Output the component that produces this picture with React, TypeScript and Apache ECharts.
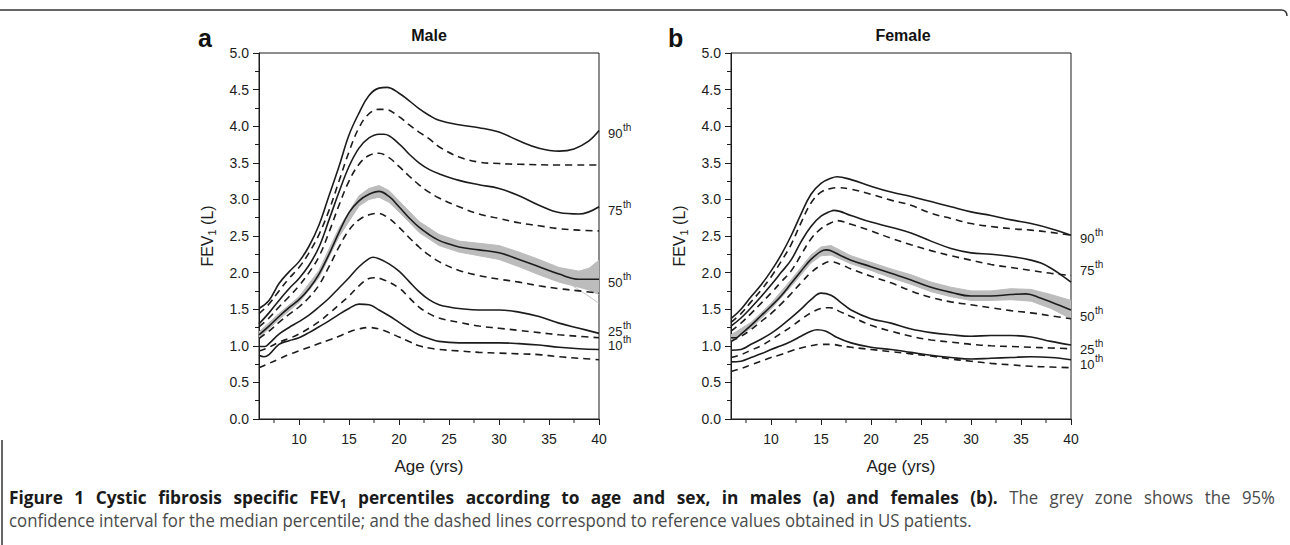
import React, { useEffect, useRef } from "react";
import * as echarts from "echarts";

// ---------- Male (panel a) ----------
const MALE_P90 = [[6,1.51],[7,1.62],[8,1.85],[9,2.01],[10,2.15],[11,2.36],[12,2.65],[13,3.05],[14,3.45],[15,3.88],[16,4.18],[17,4.42],[18,4.52],[18.8,4.53],[20,4.45],[21,4.35],[22,4.24],[23,4.15],[24,4.08],[26,4.02],[28,3.98],[30,3.92],[32,3.80],[34,3.70],[36,3.66],[37.5,3.69],[39,3.80],[40,3.94]];
const MALE_P90_US = [[6,1.44],[7,1.57],[8,1.75],[9,1.92],[10,2.07],[11,2.27],[12,2.52],[13,2.85],[14,3.25],[15,3.65],[16,3.98],[17,4.17],[18,4.23],[18.6,4.23],[20,4.13],[21,4.02],[22,3.92],[23,3.83],[24,3.72],[26,3.58],[28,3.51],[30,3.49],[32,3.48],[36,3.47],[40,3.47]];
const MALE_P75 = [[6,1.30],[7,1.45],[8,1.62],[9,1.78],[10,1.92],[11,2.10],[12,2.35],[13,2.72],[14,3.10],[15,3.45],[16,3.70],[17,3.84],[18,3.89],[18.5,3.89],[20,3.76],[21,3.62],[22,3.50],[23,3.41],[24,3.35],[26,3.26],[28,3.20],[30,3.15],[32,3.05],[34,2.92],[36,2.82],[38,2.80],[40,2.90]];
const MALE_P75_US = [[6,1.26],[7,1.38],[8,1.53],[9,1.67],[10,1.82],[11,2.00],[12,2.22],[13,2.55],[14,2.92],[15,3.25],[16,3.48],[17,3.60],[18,3.63],[19,3.57],[20,3.45],[21,3.32],[22,3.20],[23,3.10],[24,3.02],[26,2.90],[28,2.80],[30,2.74],[32,2.68],[34,2.64],[36,2.60],[38,2.58],[40,2.57]];
const MALE_P50 = [[6,1.15],[7,1.27],[8,1.40],[9,1.52],[10,1.63],[11,1.78],[12,1.98],[13,2.25],[14,2.55],[15,2.82],[16,2.98],[17,3.07],[18,3.11],[19,3.04],[20,2.90],[21,2.75],[22,2.62],[23,2.52],[24,2.44],[25,2.39],[26,2.35],[28,2.31],[30,2.27],[32,2.18],[34,2.08],[36,1.98],[38,1.91],[40,1.91]];
const MALE_P50_US = [[6,1.10],[7,1.20],[8,1.32],[9,1.43],[10,1.53],[11,1.66],[12,1.83],[13,2.08],[14,2.35],[15,2.58],[16,2.72],[17,2.79],[17.9,2.81],[19,2.74],[20,2.62],[21,2.48],[22,2.35],[23,2.24],[24,2.15],[26,2.03],[28,1.96],[30,1.91],[32,1.87],[34,1.82],[36,1.78],[38,1.75],[40,1.72]];
const MALE_P25 = [[6,0.99],[6.6,0.99],[7,1.03],[8,1.16],[9,1.25],[10,1.33],[11,1.42],[12,1.53],[13,1.65],[14,1.79],[15,1.93],[16,2.08],[17,2.19],[17.4,2.21],[18,2.19],[19,2.12],[20,2.02],[21,1.88],[22,1.74],[23,1.63],[24,1.56],[25,1.53],[26,1.51],[28,1.49],[30,1.49],[32,1.46],[34,1.40],[36,1.31],[38,1.24],[40,1.17]];
const MALE_P25_US = [[6,0.93],[7,0.98],[8,1.05],[9,1.10],[10,1.16],[11,1.24],[12,1.33],[13,1.44],[14,1.56],[15,1.68],[16,1.82],[17,1.92],[17.5,1.93],[18.5,1.90],[20,1.79],[21,1.66],[22,1.53],[23,1.44],[24,1.38],[26,1.32],[28,1.27],[30,1.24],[32,1.21],[34,1.18],[36,1.15],[38,1.13],[40,1.11]];
const MALE_P10 = [[6,0.87],[6.5,0.85],[7,0.88],[8,1.02],[9,1.07],[10,1.11],[11,1.18],[12,1.26],[13,1.34],[14,1.43],[15,1.51],[16,1.57],[17,1.56],[18,1.49],[19,1.41],[20,1.32],[21,1.23],[22,1.15],[23,1.10],[24,1.06],[26,1.04],[28,1.04],[30,1.04],[32,1.03],[34,1.01],[36,0.98],[38,0.96],[40,0.95]];
const MALE_P10_US = [[6,0.70],[7,0.76],[8,0.82],[9,0.88],[10,0.93],[11,0.98],[12,1.03],[13,1.08],[14,1.13],[15,1.19],[16,1.23],[17,1.25],[18,1.23],[19,1.18],[20,1.12],[21,1.06],[22,1.00],[23,0.97],[24,0.95],[26,0.93],[28,0.91],[30,0.90],[32,0.89],[34,0.88],[36,0.85],[38,0.83],[40,0.81]];
const MALE_BAND_AGES = [6,8,10,12,14,16,17,18,19,20,22,24,26,28,30,32,34,36,38,39,40];
const MALE_BAND_LOW = [1.11,1.36,1.59,1.93,2.49,2.91,3.00,3.03,2.96,2.83,2.55,2.37,2.28,2.23,2.18,2.08,1.97,1.87,1.80,1.76,1.70];
const MALE_BAND_HIGH = [1.19,1.44,1.67,2.03,2.61,3.05,3.15,3.19,3.12,2.98,2.70,2.52,2.43,2.40,2.37,2.28,2.18,2.07,2.02,2.06,2.17];
const MALE_BAND_EDGE = [[34,2.03],[36,1.92],[37,1.85],[38.5,1.72],[40,1.58]];

// ---------- Female (panel b) ----------
const FEMALE_P90 = [[6,1.37],[7,1.50],[8,1.67],[9,1.83],[10,2.02],[11,2.24],[12,2.50],[13,2.80],[14,3.07],[15,3.22],[16,3.29],[16.6,3.31],[18,3.27],[20,3.18],[22,3.10],[24,3.04],[26,2.97],[28,2.90],[30,2.83],[32,2.78],[34,2.72],[36,2.67],[38,2.60],[40,2.51]];
const FEMALE_P90_US = [[6,1.32],[7,1.44],[8,1.60],[9,1.76],[10,1.94],[11,2.15],[12,2.38],[13,2.68],[14,2.95],[15,3.10],[16,3.15],[16.6,3.16],[18,3.14],[20,3.07],[22,2.99],[24,2.92],[26,2.81],[28,2.74],[30,2.67],[32,2.63],[34,2.60],[36,2.58],[38,2.55],[40,2.51]];
const FEMALE_P75 = [[6,1.27],[7,1.38],[8,1.52],[9,1.67],[10,1.83],[11,2.00],[12,2.17],[13,2.42],[14,2.63],[15,2.77],[16,2.84],[16.3,2.85],[18,2.78],[20,2.69],[22,2.62],[24,2.54],[26,2.43],[28,2.33],[30,2.27],[32,2.25],[34,2.22],[36,2.17],[37,2.13],[38,2.06],[39,1.97],[40,1.87]];
const FEMALE_P75_US = [[6,1.20],[7,1.31],[8,1.44],[9,1.58],[10,1.72],[11,1.87],[12,2.02],[13,2.24],[14,2.46],[15,2.60],[16,2.68],[16.6,2.71],[18,2.66],[20,2.57],[22,2.47],[24,2.38],[26,2.30],[28,2.23],[30,2.17],[32,2.11],[34,2.07],[36,2.03],[38,1.99],[40,1.96]];
const FEMALE_P50 = [[6,1.11],[6.5,1.11],[7,1.16],[8,1.28],[9,1.41],[10,1.54],[11,1.68],[12,1.85],[13,2.02],[14,2.18],[15,2.29],[15.5,2.31],[16,2.30],[17,2.23],[18,2.17],[20,2.08],[22,1.99],[24,1.90],[26,1.80],[28,1.73],[30,1.68],[32,1.68],[34,1.70],[35.5,1.71],[37,1.65],[38,1.60],[40,1.49]];
const FEMALE_P50_US = [[6,1.06],[7,1.13],[8,1.22],[9,1.33],[10,1.44],[11,1.57],[12,1.71],[13,1.86],[14,2.00],[15,2.10],[15.9,2.15],[17,2.11],[18,2.05],[20,1.95],[22,1.86],[24,1.75],[26,1.66],[28,1.60],[30,1.56],[32,1.52],[34,1.48],[36,1.45],[38,1.41],[40,1.37]];
const FEMALE_P25 = [[6,0.94],[7,0.95],[8,1.02],[9,1.09],[10,1.17],[11,1.27],[12,1.38],[13,1.50],[14,1.63],[15,1.72],[16,1.69],[17,1.59],[18,1.49],[20,1.37],[22,1.31],[24,1.23],[26,1.18],[28,1.15],[30,1.13],[32,1.14],[34,1.14],[36,1.12],[38,1.06],[40,1.01]];
const FEMALE_P25_US = [[6,0.84],[7,0.88],[8,0.94],[9,1.00],[10,1.08],[11,1.17],[12,1.26],[13,1.36],[14,1.45],[15,1.51],[15.9,1.52],[17,1.46],[18,1.40],[20,1.28],[22,1.20],[24,1.13],[26,1.08],[28,1.05],[30,1.02],[32,1.00],[34,0.99],[36,0.98],[38,0.97],[40,0.96]];
const FEMALE_P10 = [[6,0.78],[7,0.79],[8,0.84],[9,0.89],[10,0.95],[11,1.00],[12,1.06],[13,1.13],[14,1.20],[14.6,1.22],[15.5,1.20],[16.5,1.12],[18,1.04],[20,0.98],[22,0.95],[24,0.91],[26,0.87],[28,0.84],[30,0.82],[32,0.83],[34,0.84],[36,0.85],[38,0.84],[40,0.81]];
const FEMALE_P10_US = [[6,0.65],[7,0.69],[8,0.74],[9,0.79],[10,0.84],[11,0.88],[12,0.93],[13,0.97],[14,1.00],[15,1.02],[16,1.02],[17,1.00],[18,0.98],[20,0.95],[22,0.92],[24,0.89],[26,0.86],[28,0.82],[30,0.79],[32,0.76],[34,0.74],[36,0.72],[38,0.71],[40,0.70]];
const FEMALE_BAND_AGES = [6,8,10,12,14,15,16,18,20,22,24,26,28,30,32,34,36,38,40];
const FEMALE_BAND_LOW = [1.07,1.24,1.50,1.81,2.13,2.23,2.24,2.12,2.03,1.93,1.84,1.74,1.67,1.62,1.62,1.63,1.61,1.51,1.37];
const FEMALE_BAND_HIGH = [1.15,1.32,1.58,1.90,2.24,2.35,2.37,2.23,2.14,2.05,1.97,1.87,1.80,1.75,1.75,1.78,1.77,1.70,1.62];

// ---------- axes / labels ----------
const X_MINOR_TICKS = [7.5, 12.5, 17.5, 22.5, 27.5, 32.5, 37.5];
const PERCENTILE_LABELS = ["90", "75", "50", "25", "10"];
const MALE_LABEL_Y = [133, 210, 282, 331, 345];
const FEMALE_LABEL_Y = [238, 270, 316, 349, 364];
const CAPTION_BOLD = "Figure 1 Cystic fibrosis specific FEV_1 percentiles according to age and sex, in males (a) and females (b).";
const CAPTION_LINE1_REST = "The grey zone shows the 95%";
const CAPTION_LINE2 = "confidence interval for the median percentile; and the dashed lines correspond to reference values obtained in US patients.";

const FONT = '"Liberation Sans", Arial, sans-serif';
const CAP_FONT = '"Open Sans", sans-serif';
const INK = "#1c1c1c";

const GRIDS = [
  { left: 259, top: 53, width: 340, height: 366 },
  { left: 731, top: 53, width: 340, height: 366 },
];

function lineSeries(data: number[][], dashed: boolean, idx: number, color = INK, width = 1.6) {
  return {
    type: "line",
    xAxisIndex: idx,
    yAxisIndex: idx,
    data,
    smooth: 0.4,
    symbol: "none",
    silent: true,
    z: 4,
    lineStyle: { color, width, type: dashed ? [7, 5] : "solid" },
  };
}

function bandSeries(ages: number[], low: number[], high: number[], idx: number) {
  return {
    type: "custom",
    xAxisIndex: idx,
    yAxisIndex: idx,
    silent: true,
    clip: true,
    z: 2,
    data: ages.map((a, i) => [a, low[i], high[i]]),
    encode: { x: 0, y: [1, 2] },
    renderItem: (params: any, api: any) => {
      if (params.dataIndex !== 0) return null;
      const n = params.dataInsideLength;
      const top: number[][] = [];
      const bottom: number[][] = [];
      for (let i = 0; i < n; i++) {
        const a = api.value(0, i);
        top.push(api.coord([a, api.value(2, i)]));
        bottom.push(api.coord([a, api.value(1, i)]));
      }
      return {
        type: "polygon",
        shape: { points: top.concat(bottom.reverse()) },
        style: { fill: "#bcbcbc", stroke: "#bcbcbc", lineWidth: 1, lineJoin: "round" },
      };
    },
  };
}

function minorTickSeries(idx: number) {
  return {
    type: "custom",
    xAxisIndex: idx,
    yAxisIndex: idx,
    silent: true,
    z: 5,
    data: X_MINOR_TICKS.map((v) => [v, 0]),
    renderItem: (params: any, api: any) => {
      const p = api.coord([api.value(0), 0]);
      return {
        type: "line",
        shape: { x1: p[0], y1: p[1], x2: p[0], y2: p[1] + 4 },
        style: { stroke: INK, lineWidth: 1 },
      };
    },
  };
}

function percentileLabels(x: number, ys: number[]) {
  const els: any[] = [];
  ys.forEach((y, i) => {
    els.push({ type: "text", x, y, style: { text: PERCENTILE_LABELS[i], font: `13px ${FONT}`, fill: INK, textVerticalAlign: "middle", verticalAlign: "middle" } });
    els.push({ type: "text", x: x + 15, y: y - 6, style: { text: "th", font: `10px ${FONT}`, fill: INK, textVerticalAlign: "middle", verticalAlign: "middle" } });
  });
  return els;
}

function captionElements() {
  const SIZE = 18;
  const BOLD_SCALE = 0.96;
  const NORM_SCALE = 0.933;
  const boldFont = `bold ${SIZE}px ${CAP_FONT}`;
  const subFont = `bold 12px ${CAP_FONT}`;
  const normFont = `${SIZE}px ${CAP_FONT}`;
  const canvas = document.createElement("canvas");
  const ctx = canvas.getContext("2d") as CanvasRenderingContext2D;
  const measure = (t: string, f: string) => {
    ctx.font = f;
    return ctx.measureText(t).width;
  };
  const words: { text: string; bold: boolean; w: number }[] = [];
  CAPTION_BOLD.split(" ").forEach((t) => {
    const raw = t.includes("_") ? measure(t.split("_")[0], boldFont) + measure(t.split("_")[1], subFont) : measure(t, boldFont);
    words.push({ text: t, bold: true, w: raw * BOLD_SCALE });
  });
  CAPTION_LINE1_REST.split(" ").forEach((t) => words.push({ text: t, bold: false, w: measure(t, normFont) * NORM_SCALE }));
  const x0 = 9;
  const x1 = 1275;
  const total = words.reduce((s, w) => s + w.w, 0);
  const gap = (x1 - x0 - total) / (words.length - 1);
  const els: any[] = [];
  let x = x0;
  const y1 = 497;
  words.forEach((w) => {
    const scaleX = w.bold ? BOLD_SCALE : NORM_SCALE;
    if (w.text.includes("_")) {
      const [a, b] = w.text.split("_");
      els.push({
        type: "text",
        x,
        y: y1,
        scaleX,
        style: {
          text: `{b|${a}}{s|${b}}`,
          textVerticalAlign: "middle",
          verticalAlign: "middle",
          rich: {
            b: { font: boldFont, fill: "#1a1a1a", color: "#1a1a1a", lineHeight: 24 },
            s: { font: subFont, fill: "#1a1a1a", color: "#1a1a1a", lineHeight: 24, verticalAlign: "bottom" },
          },
        },
      });
    } else {
      els.push({
        type: "text",
        x,
        y: y1,
        scaleX,
        style: { text: w.text, font: w.bold ? boldFont : normFont, fill: w.bold ? "#1a1a1a" : "#4a4a4a", textVerticalAlign: "middle", verticalAlign: "middle" },
      });
    }
    x += w.w + gap;
  });
  els.push({
    type: "text",
    x: x0,
    y: 520,
    scaleX: NORM_SCALE,
    style: { text: CAPTION_LINE2, font: normFont, fill: "#4a4a4a", textVerticalAlign: "middle", verticalAlign: "middle" },
  });
  return els;
}

export default function App() {
  const ref = useRef<HTMLDivElement>(null);
  useEffect(() => {
    document.body.style.margin = "0";
    const chart = echarts.init(ref.current as HTMLDivElement, undefined, { renderer: "svg" });
    const xAxes = [0, 1].map((i) => ({
      type: "value",
      gridIndex: i,
      min: 6,
      max: 40,
      splitNumber: 7,
      name: "Age (yrs)",
      nameLocation: "middle",
      nameGap: 39,
      nameTextStyle: { fontSize: 17, color: INK, fontFamily: FONT },
      axisLine: { lineStyle: { color: INK, width: 1 } },
      axisTick: { length: 6, lineStyle: { color: INK, width: 1 } },
      minorTick: { show: false },
      splitLine: { show: false },
      axisLabel: {
        showMinLabel: false,
        margin: 13,
        fontSize: 14,
        color: INK,
        fontFamily: FONT,
        formatter: (v: number) => (v < 10 ? "" : String(v)),
      },
    }));
    const yAxes = [0, 1].map((i) => ({
      type: "value",
      gridIndex: i,
      min: 0,
      max: 5,
      interval: 0.5,
      name: "FEV{s|1} (L)",
      nameLocation: "middle",
      nameGap: 42,
      nameTextStyle: {
        fontSize: 16,
        color: INK,
        fontFamily: FONT,
        rich: { s: { fontSize: 11, color: INK, fontFamily: FONT, verticalAlign: "bottom", lineHeight: 19 } },
      },
      axisLine: { show: true, lineStyle: { color: INK, width: 1 } },
      axisTick: { length: 6, lineStyle: { color: INK, width: 1 } },
      minorTick: { show: true, splitNumber: 2, length: 4, lineStyle: { color: INK, width: 1 } },
      splitLine: { show: false },
      axisLabel: { margin: 10, fontSize: 14, color: INK, fontFamily: FONT, formatter: (v: number) => v.toFixed(1) },
    }));

    const series: any[] = [
      bandSeries(MALE_BAND_AGES, MALE_BAND_LOW, MALE_BAND_HIGH, 0),
      lineSeries(MALE_BAND_EDGE, false, 0, "#c4c4c4", 1),
      lineSeries(MALE_P90, false, 0),
      lineSeries(MALE_P90_US, true, 0),
      lineSeries(MALE_P75, false, 0),
      lineSeries(MALE_P75_US, true, 0),
      lineSeries(MALE_P50, false, 0),
      lineSeries(MALE_P50_US, true, 0),
      lineSeries(MALE_P25, false, 0),
      lineSeries(MALE_P25_US, true, 0),
      lineSeries(MALE_P10, false, 0),
      lineSeries(MALE_P10_US, true, 0),
      minorTickSeries(0),
      bandSeries(FEMALE_BAND_AGES, FEMALE_BAND_LOW, FEMALE_BAND_HIGH, 1),
      lineSeries(FEMALE_P90, false, 1),
      lineSeries(FEMALE_P90_US, true, 1),
      lineSeries(FEMALE_P75, false, 1),
      lineSeries(FEMALE_P75_US, true, 1),
      lineSeries(FEMALE_P50, false, 1),
      lineSeries(FEMALE_P50_US, true, 1),
      lineSeries(FEMALE_P25, false, 1),
      lineSeries(FEMALE_P25_US, true, 1),
      lineSeries(FEMALE_P10, false, 1),
      lineSeries(FEMALE_P10_US, true, 1),
      minorTickSeries(1),
    ];

    const graphic: any[] = [
      { type: "line", shape: { x1: 0, y1: 10, x2: 1281, y2: 10 }, style: { stroke: "#333", lineWidth: 1.5 } },
      { type: "bezierCurve", shape: { x1: 1281, y1: 10, cpx1: 1287, cpy1: 10, x2: 1287, y2: 16 }, style: { stroke: "#333", lineWidth: 1.5, fill: null } },
      { type: "line", shape: { x1: 2, y1: 440, x2: 2, y2: 545 }, style: { stroke: "#333", lineWidth: 1.5 } },
      { type: "text", x: 198, y: 38, style: { text: "a", font: `bold 25px ${FONT}`, fill: "#111", textVerticalAlign: "middle", verticalAlign: "middle" } },
      { type: "text", x: 668, y: 38, style: { text: "b", font: `bold 25px ${FONT}`, fill: "#111", textVerticalAlign: "middle", verticalAlign: "middle" } },
      { type: "text", x: 429, y: 35, style: { text: "Male", font: `bold 16px ${FONT}`, fill: "#111", textAlign: "center", align: "center", textVerticalAlign: "middle", verticalAlign: "middle" } },
      { type: "text", x: 903, y: 35, style: { text: "Female", font: `bold 16px ${FONT}`, fill: "#111", textAlign: "center", align: "center", textVerticalAlign: "middle", verticalAlign: "middle" } },
      ...percentileLabels(608, MALE_LABEL_Y),
      ...percentileLabels(1080, FEMALE_LABEL_Y),
      ...captionElements(),
    ];

    chart.setOption({
      animation: false,
      grid: GRIDS.map((g) => ({ ...g, show: true, borderColor: INK, borderWidth: 1, backgroundColor: "transparent", containLabel: false })),
      xAxis: xAxes,
      yAxis: yAxes,
      series,
      graphic,
    });
    return () => chart.dispose();
  }, []);
  return <div ref={ref} style={{ width: 1290, height: 545 }} />;
}
